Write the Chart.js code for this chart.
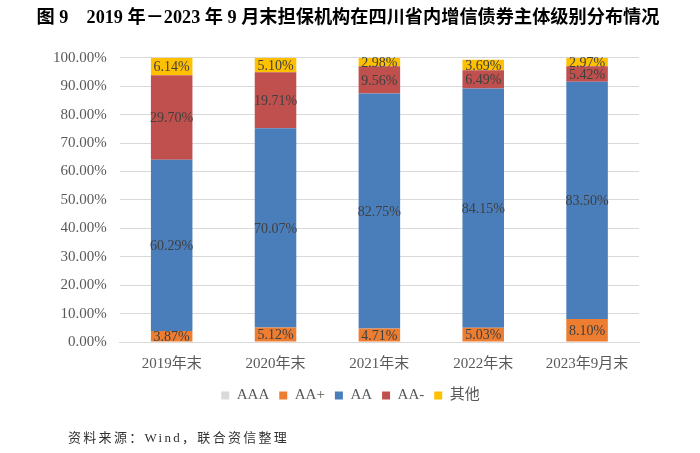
<!DOCTYPE html>
<html>
<head>
<meta charset="utf-8">
<script src="https://cdn.jsdelivr.net/npm/chart.js@4/dist/chart.umd.min.js"></script>
<style>
  html, body { margin: 0; padding: 0; background: #fff; }
  #wrap { position: relative; width: 700px; height: 453px; }
  #source {
    position: absolute; left: 68px; top: 430px;
    font: 13px/16px 'Liberation Serif', 'Noto Sans CJK SC', serif;
    letter-spacing: 2.3px; color: #333; white-space: nowrap;
  }
</style>
</head>
<body>
<div id="wrap">
  <canvas id="ratingChart" width="700" height="453"></canvas>
  <div id="source">资料来源：Wind，联合资信整理</div>
</div>
<script>
// 年份
const years = ['2019年末', '2020年末', '2021年末', '2022年末', '2023年9月末'];
// 各级别占比（%）
const aaaData = [0, 0, 0, 0, 0];
const aaPlusData = [3.87, 5.12, 4.71, 5.03, 8.10];
const aaData = [60.29, 70.07, 82.75, 84.15, 83.50];
const aaMinusData = [29.70, 19.71, 9.56, 6.49, 5.42];
const otherData = [6.14, 5.10, 2.98, 3.69, 2.97];
// 纵轴刻度
const yTicks = [0, 10, 20, 30, 40, 50, 60, 70, 80, 90, 100];

const serif = "'Liberation Serif', 'Noto Sans CJK SC', serif";

// 段内数值标签
const segmentLabels = {
    id: 'segmentLabels',
    afterDatasetsDraw(chart) {
        const ctx = chart.ctx;
        ctx.save();
        ctx.font = '14px ' + serif;
        ctx.fillStyle = '#404040';
        ctx.textAlign = 'center';
        ctx.textBaseline = 'middle';
        chart.data.datasets.forEach((ds, i) => {
            const meta = chart.getDatasetMeta(i);
            meta.data.forEach((bar, j) => {
                const v = ds.data[j];
                if (!v) return;
                ctx.fillText(v.toFixed(2) + '%', bar.x, (bar.y + bar.base) / 2 + 1);
            });
        });
        ctx.restore();
    }
};

// 标题、图例按整页居中
const centerBoxes = {
    id: 'centerBoxes',
    afterLayout(chart) {
        if (chart.titleBlock) {
            chart.titleBlock.left = 28;
            chart.titleBlock.right = 668;
        }
        if (chart.legend) {
            chart.legend.left += 11;
            chart.legend.right += 11;
        }
    }
};

const barOpts = { barPercentage: 0.4, categoryPercentage: 1, borderWidth: 0 };

new Chart(document.getElementById('ratingChart').getContext('2d'), {
    type: 'bar',
    data: {
        labels: years,
        datasets: [
            { label: 'AAA', data: aaaData, backgroundColor: '#d9d9d9', ...barOpts },
            { label: 'AA+', data: aaPlusData, backgroundColor: '#ed7d31', ...barOpts },
            { label: 'AA', data: aaData, backgroundColor: '#4a7ebb', ...barOpts },
            { label: 'AA-', data: aaMinusData, backgroundColor: '#c0504d', ...barOpts },
            { label: '其他', data: otherData, backgroundColor: '#ffc000', ...barOpts }
        ]
    },
    options: {
        responsive: false,
        animation: false,
        layout: { padding: { left: 40, right: 61, top: 0, bottom: 40 } },
        plugins: {
            title: {
                display: true,
                text: '图 9    2019 年－2023 年 9 月末担保机构在四川省内增信债券主体级别分布情况',
                color: '#000',
                font: { family: serif, size: 18.2, weight: 'bold' },
                padding: { top: 7, bottom: 29 }
            },
            legend: {
                position: 'bottom',
                labels: {
                    boxWidth: 8,
                    boxHeight: 8,
                    padding: 10,
                    color: '#595959',
                    font: { family: serif, size: 15 }
                }
            },
            tooltip: { enabled: false }
        },
        scales: {
            x: {
                stacked: true,
                grid: { display: false },
                border: { color: '#d9d9d9' },
                ticks: { color: '#595959', font: { family: serif, size: 15 }, padding: 5 }
            },
            y: {
                stacked: true,
                min: 0,
                max: 100,
                afterBuildTicks(axis) {
                    axis.ticks = yTicks.map(v => ({ value: v }));
                },
                grid: { color: '#d9d9d9', drawTicks: false },
                border: { display: false },
                ticks: {
                    color: '#595959',
                    font: { family: serif, size: 15 },
                    padding: 13,
                    callback: v => v.toFixed(2) + '%'
                }
            }
        }
    },
    plugins: [segmentLabels, centerBoxes]
});
</script>
</body>
</html>
